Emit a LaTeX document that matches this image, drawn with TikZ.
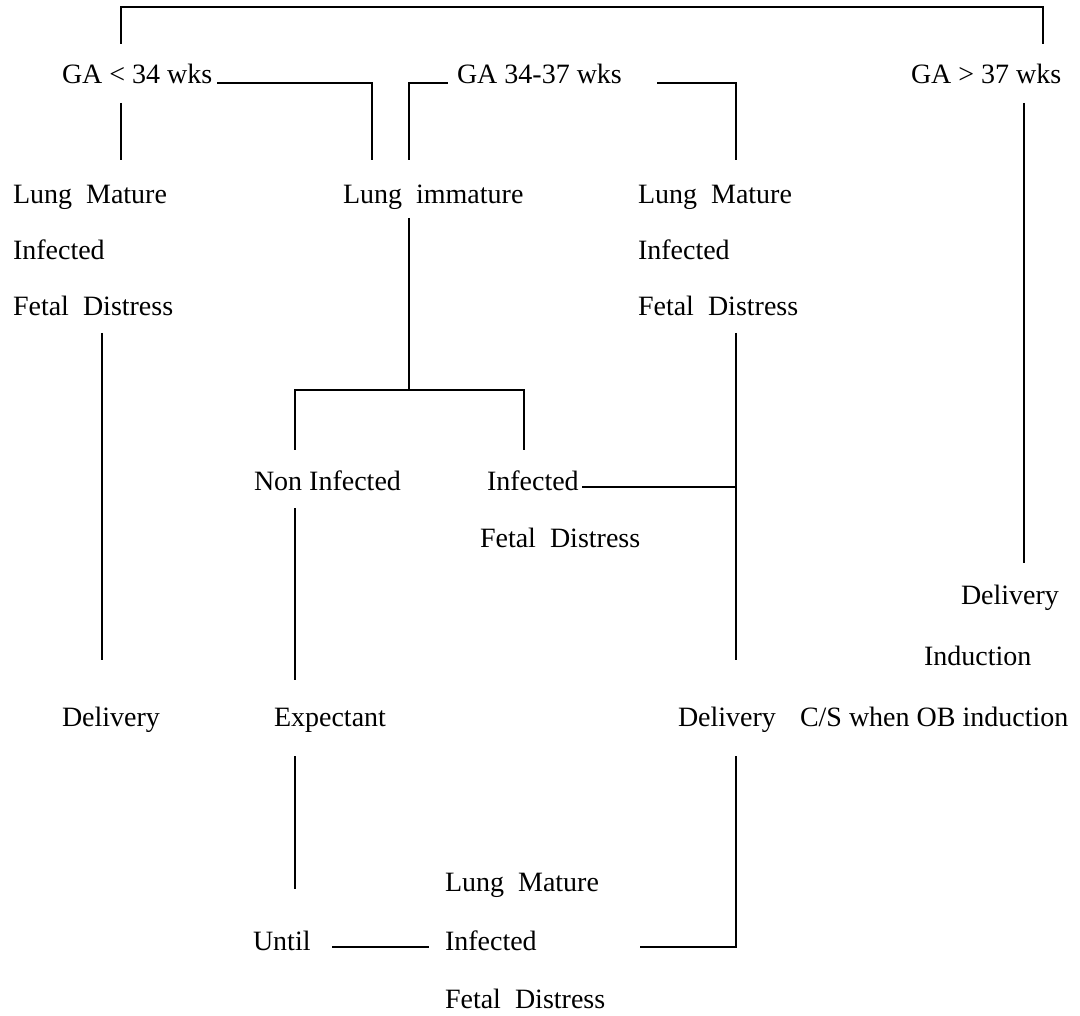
\documentclass[tikz,border=0pt]{standalone}
\usepackage{fontspec}
\setmainfont{Liberation Serif}
\begin{document}
\begin{tikzpicture}[x=1pt,y=-1pt,
  txt/.style={anchor=base west,inner sep=0pt,outer sep=0pt,font=\fontsize{28}{34}\selectfont},
  ln/.style={line width=1.8pt,line cap=butt,line join=miter}]
\useasboundingbox[fill=white] (0,0) rectangle (1080,1016);
% text nodes
\node[txt] (ga1) at (62,84) {GA < 34 wks};
\node[txt] (ga2) at (457,84) {GA 34-37 wks};
\node[txt] (ga3) at (911,84) {GA > 37 wks};
\node[txt] (lm1) at (13,204) {Lung~~Mature};
\node[txt] (if1) at (13,260) {Infected};
\node[txt] (fd1) at (13,316) {Fetal~~Distress};
\node[txt] (li) at (343,204) {Lung~~immature};
\node[txt] (lm2) at (638,204) {Lung~~Mature};
\node[txt] (if2) at (638,260) {Infected};
\node[txt] (fd2) at (638,316) {Fetal~~Distress};
\node[txt] (ni) at (254,490) {Non Infected};
\node[txt] (if3) at (487,490) {Infected};
\node[txt] (fd3) at (480,547) {Fetal~~Distress};
\node[txt] (dr) at (961,604) {Delivery};
\node[txt] (ind) at (924,665) {Induction};
\node[txt] (d1) at (62,726) {Delivery};
\node[txt] (ex) at (274,726) {Expectant};
\node[txt] (d2) at (678,726) {Delivery};
\node[txt] (cs) at (800,726) {C/S when OB induction};
\node[txt] (lm3) at (445,891) {Lung~~Mature};
\node[txt] (un) at (253,950) {Until};
\node[txt] (if4) at (445,950) {Infected};
\node[txt] (fd4) at (445,1008) {Fetal~~Distress};
% connector end points
\coordinate (a1) at (121,44); \coordinate (a2) at (121,7);
\coordinate (a3) at (1043,7); \coordinate (a4) at (1043,44);
\coordinate (b1) at (217,83); \coordinate (b2) at (372,83); \coordinate (b3) at (372,160);
\coordinate (c1) at (409,160); \coordinate (c2) at (409,83); \coordinate (c3) at (448,83);
\coordinate (e1) at (657,83); \coordinate (e2) at (736,83); \coordinate (e3) at (736,160);
\coordinate (f1) at (121,103); \coordinate (f2) at (121,160);
\coordinate (g1) at (1024,103); \coordinate (g2) at (1024,563);
\coordinate (h1) at (102,333); \coordinate (h2) at (102,660);
\coordinate (i1) at (409,218); \coordinate (i2) at (409,390);
\coordinate (j1) at (295,450); \coordinate (j2) at (295,390);
\coordinate (j3) at (524,390); \coordinate (j4) at (524,450);
\coordinate (k1) at (582,487); \coordinate (k2) at (736,487);
\coordinate (m1) at (736,333); \coordinate (m2) at (736,660);
\coordinate (n1) at (295,508); \coordinate (n2) at (295,680);
\coordinate (p1) at (295,756); \coordinate (p2) at (295,889);
\coordinate (q1) at (332,947); \coordinate (q2) at (429,947);
\coordinate (r1) at (736,756); \coordinate (r2) at (736,947); \coordinate (r3) at (640,947);
% connectors
\draw[ln] (a1) -- (a2) -- (a3) -- (a4);
\draw[ln] (b1) -- (b2) -- (b3);
\draw[ln] (c1) -- (c2) -- (c3);
\draw[ln] (e1) -- (e2) -- (e3);
\draw[ln] (f1) -- (f2);
\draw[ln] (g1) -- (g2);
\draw[ln] (h1) -- (h2);
\draw[ln] (i1) -- (i2);
\draw[ln] (j1) -- (j2) -- (j3) -- (j4);
\draw[ln] (k1) -- (k2);
\draw[ln] (m1) -- (m2);
\draw[ln] (n1) -- (n2);
\draw[ln] (p1) -- (p2);
\draw[ln] (q1) -- (q2);
\draw[ln] (r1) -- (r2) -- (r3);
\end{tikzpicture}
\end{document}
